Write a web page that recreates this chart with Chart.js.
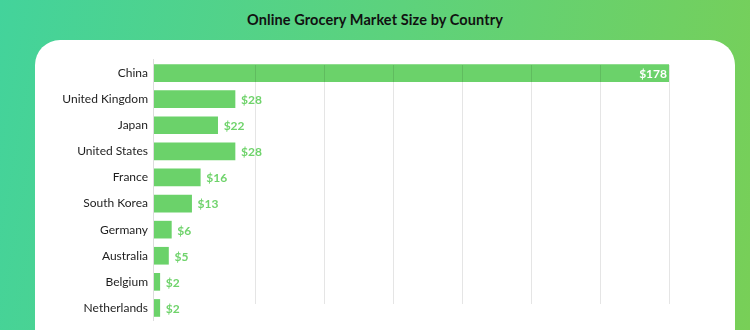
<!DOCTYPE html>
<html>
<head>
<meta charset="utf-8">
<script src="https://cdn.jsdelivr.net/npm/chart.js@4"></script>
<style>
  html, body { margin: 0; padding: 0; }
  body {
    width: 750px; height: 330px; position: relative; overflow: hidden;
    background: linear-gradient(100deg, #43d39b 0%, #5dd27c 50%, #78cf57 100%);
    font-family: Lato, "Open Sans", sans-serif;
  }
  .title {
    position: absolute; left: 0; top: 11px; width: 750px; text-align: center;
    font: 700 14.5px Lato, sans-serif; color: #111; letter-spacing: 0.1px;
  }
  .card {
    position: absolute; left: 35px; top: 40px; width: 700px; height: 320px;
    background: #fff; border-radius: 25px;
  }
  #wrap { position: absolute; left: 0; top: 0; width: 750px; height: 330px; }
  canvas { display: block; }
</style>
</head>
<body>
<div class="title">Online Grocery Market Size by Country</div>
<div class="card"></div>
<div id="wrap"><canvas id="chart" width="750" height="330"></canvas></div>
<script>
// Market size by country, billions of US dollars
const countries = ["China", "United Kingdom", "Japan", "United States", "France",
                   "South Korea", "Germany", "Australia", "Belgium", "Netherlands"];
const marketSize = [178, 28, 22, 28, 16, 13, 6, 5, 2, 2];
const valueLabels = ["$178", "$28", "$22", "$28", "$16", "$13", "$6", "$5", "$2", "$2"];

const barGreen = "#6bd26a";
const labelGreen = "#6fd36b";

// Vertical grid lines, drawn over the bars in a faint grey, plus the category axis line
const gridPlugin = {
  id: "grid",
  afterDatasetsDraw(chart) {
    const { ctx, chartArea, scales } = chart;
    const x = scales.x;
    ctx.save();
    ctx.lineWidth = 1;
    ctx.strokeStyle = "rgba(0,0,0,0.10)";
    x.ticks.forEach(t => {
      if (t.value <= 0) return;
      const px = Math.round(x.getPixelForValue(t.value)) + 0.5;
      ctx.beginPath();
      ctx.moveTo(px, chartArea.top + 5);
      ctx.lineTo(px, chartArea.bottom - 17);
      ctx.stroke();
    });
    ctx.strokeStyle = "#dddddd";
    const ax = Math.round(x.getPixelForValue(0)) - 0.5;
    ctx.beginPath();
    ctx.moveTo(ax, chartArea.top - 1);
    ctx.lineTo(ax, chartArea.bottom);
    ctx.stroke();
    ctx.restore();
  }
};

// Value labels: inside the longest bar in white, otherwise just past the bar end in green
const valuePlugin = {
  id: "values",
  afterDatasetsDraw(chart) {
    const { ctx } = chart;
    const meta = chart.getDatasetMeta(0);
    const maxVal = Math.max(...marketSize);
    ctx.save();
    ctx.font = "700 12px Lato, sans-serif";
    ctx.textBaseline = "middle";
    meta.data.forEach((bar, i) => {
      if (marketSize[i] === maxVal) {
        ctx.fillStyle = "#ffffff";
        ctx.textAlign = "right";
        ctx.fillText(valueLabels[i], bar.x - 2, bar.y + 1);
      } else {
        ctx.fillStyle = labelGreen;
        ctx.textAlign = "left";
        ctx.fillText(valueLabels[i], bar.x + 6, bar.y + 1);
      }
    });
    ctx.restore();
  }
};

new Chart(document.getElementById("chart"), {
  type: "bar",
  data: {
    labels: countries,
    datasets: [{
      data: marketSize,
      backgroundColor: barGreen,
      borderWidth: 0,
      barThickness: 17
    }]
  },
  options: {
    indexAxis: "y",
    responsive: false,
    animation: false,
    layout: { padding: { top: 60, bottom: 9, right: 81, left: 0 } },
    plugins: { legend: { display: false }, tooltip: { enabled: false } },
    scales: {
      x: {
        min: 0,
        max: 178,
        display: false,
        afterBuildTicks(scale) {
          const step = 23.85;
          const ticks = [];
          for (let v = scale.max; v > step; v -= step) ticks.unshift({ value: v });
          scale.ticks = ticks;
        }
      },
      y: {
        afterFit(scale) {
          scale.width = 154;
          scale.paddingTop = 0;
          scale.paddingBottom = 0;
        },
        grid: { display: false, drawTicks: false },
        border: { display: false },
        ticks: {
          padding: 6,
          color: "#1d1d1d",
          font: { family: "Lato, sans-serif", size: 12 }
        }
      }
    }
  },
  plugins: [gridPlugin, valuePlugin]
});
</script>
</body>
</html>
